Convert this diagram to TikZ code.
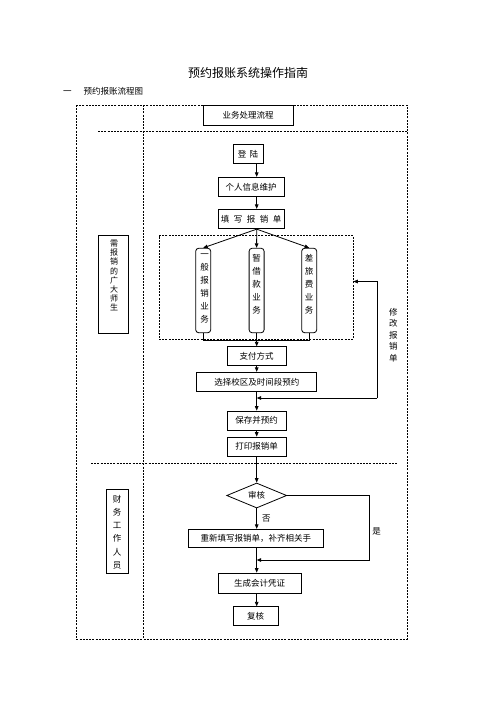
\documentclass[tikz,border=0pt]{standalone}
\usepackage{fontspec}
\newfontfamily\cjk{Noto Sans CJK SC}
\usetikzlibrary{arrows.meta,shapes.geometric,calc}
\begin{document}
\begin{tikzpicture}[x=1pt,y=-1pt,
  box/.style={draw,line width=0.8pt,inner sep=0pt,minimum height=19.5pt,font=\cjk\fontsize{8.5}{10}\selectfont},
  tall/.style={draw,line width=0.8pt,rounded corners=3pt,minimum width=15pt,minimum height=84.5pt,inner sep=0pt},
  vt/.style={font=\cjk\fontsize{8.5}{13}\selectfont,align=center,inner sep=0pt,anchor=north},
  lbl/.style={font=\cjk\fontsize{8.5}{10}\selectfont,inner sep=0pt},
  dsh/.style={line width=0.7pt,dash pattern=on 2pt off 1.2pt},
  arr/.style={line width=0.8pt,-{Triangle[length=4.5pt,width=3.6pt]}},
  ln/.style={line width=0.8pt}]
\useasboundingbox (0,0) rectangle (496,702);

% titles
\node[inner sep=0pt,font=\cjk\fontsize{12}{14}\selectfont] (title) at (248,73) {预约报账系统操作指南};
\node[anchor=west,inner sep=0pt,font=\cjk\fontsize{8.5}{10}\selectfont] (sub) at (63,91) {一\hspace{12pt}预约报账流程图};

% swimlane frame
\draw[dsh] (76,105) rectangle (407,639);
\draw[dsh] (143,105) -- (143,639);
\draw[dsh] (98,131.5) -- (407,131.5);
\draw[dsh] (91,463) -- (398,463);

\coordinate (ax) at (256.7,0);

% header
\node[box,minimum width=90pt,minimum height=20pt] (hdr) at (248,115) {业务处理流程};

% lane labels
\node[draw,line width=0.8pt,minimum width=30pt,minimum height=98.3pt,inner sep=0pt] (stud) at (113.3,284.2) {};
\node[vt,font=\cjk\fontsize{8}{9.2}\selectfont] (studt) at (114,239.8) {需\\报\\销\\的\\广\\大\\师\\生};
\node[draw,line width=0.8pt,minimum width=22.3pt,minimum height=84pt,inner sep=0pt] (fin) at (117.2,531.3) {};
\node[vt,font=\cjk\fontsize{8.5}{13.2}\selectfont] (fint) at (117,495) {财\\务\\工\\作\\人\\员};

% main flow
\node[box,minimum width=30pt] (login) at (248,154) {登\hspace{3.5pt}陆};
\node[box,minimum width=66pt] (info) at (251.2,187) {个人信息维护};
\node[box,minimum width=66pt] (fill) at (251.2,219) {填\hspace{4.5pt}写\hspace{4.5pt}报\hspace{4.5pt}销\hspace{4.5pt}单};

\node[draw,dsh,minimum width=194pt,minimum height=103.5pt,inner sep=0pt] (grp) at (256,287.3) {};
\node[tall] (b1) at (203.2,290.5) {};
\node[tall] (b2) at (256.6,290.5) {};
\node[tall] (b3) at (309.2,290.5) {};
\node[vt] (b1t) at (204.5,254) {一\\般\\报\\销\\业\\务};
\node[vt] (b2t) at (256.6,254) {暂\\借\\款\\业\\务};
\node[vt] (b3t) at (309.2,254) {差\\旅\\费\\业\\务};

\node[box,minimum width=59pt,minimum height=18.5pt] (pay) at (256.5,356) {支付方式};
\node[box,minimum width=120pt] (sel) at (256.8,382) {选择校区及时间段预约};
\node[box,minimum width=59pt,minimum height=19pt] (save) at (256.5,420.5) {保存并预约};
\node[box,minimum width=59pt,minimum height=19pt] (print) at (256.5,446.5) {打印报销单};

\node[draw,line width=0.8pt,diamond,minimum width=60pt,minimum height=25pt,inner sep=0pt,font=\cjk\fontsize{8.5}{10}\selectfont] (chk) at (256.7,495.5) {审核};
\node[box,minimum width=135pt,minimum height=18.5pt] (redo) at (255.8,538.5) {重新填写报销单，补齐相关手};
\node[box,minimum width=83pt,minimum height=20pt] (gen) at (259.5,583) {生成会计凭证};
\node[box,minimum width=45pt,minimum height=18.5pt] (rev) at (255.5,616) {复核};

\node[vt,font=\cjk\fontsize{8.5}{11.5}\selectfont] (mod) at (393.3,307.7) {修\\改\\报\\销\\单};
\node[lbl] (yes) at (376.7,531) {是};

% connectors
\draw[arr] (login.south -| ax) -- (info.north -| ax);
\draw[arr] (info.south -| ax) -- (fill.north -| ax);
\draw[arr] (fill.south -| ax) -- (b1.north);
\draw[arr] (fill.south -| ax) -- (b2.north);
\draw[arr] (fill.south -| ax) -- (b3.north);
\coordinate (join) at (256.7,340);
\draw[ln] (b1.south) -- (b1.south |- join) -- (b3.south |- join) -- (b3.south);
\draw[ln] (b2.south) -- (b2.south |- join);
\draw[arr] (join) -- (pay.north -| ax);
\draw[arr] (pay.south -| ax) -- (sel.north -| ax);
\draw[arr] (sel.south -| ax) -- (save.north -| ax);
\coordinate (fbc) at (377,398);
\coordinate (fbt) at (377,281.5);
\draw[arr] (fbc) -- (fbc -| ax);
\draw[arr] (fbc) -- (fbt) -- (fbt -| grp.east);
\draw[arr] (save.south -| ax) -- (print.north -| ax);
\draw[arr] (print.south -| ax) -- (chk.north);
\draw[arr] (chk.south) -- (redo.north -| ax) node[lbl,midway,right=5pt] (no) {否};
\coordinate (yc) at (369.3,560);
\draw[arr] (chk.east) -| (yc) -- (yc -| ax);
\draw[arr] (redo.south -| ax) -- (gen.north -| ax);
\draw[arr] (gen.south -| ax) -- (rev.north -| ax);
\end{tikzpicture}
\end{document}
